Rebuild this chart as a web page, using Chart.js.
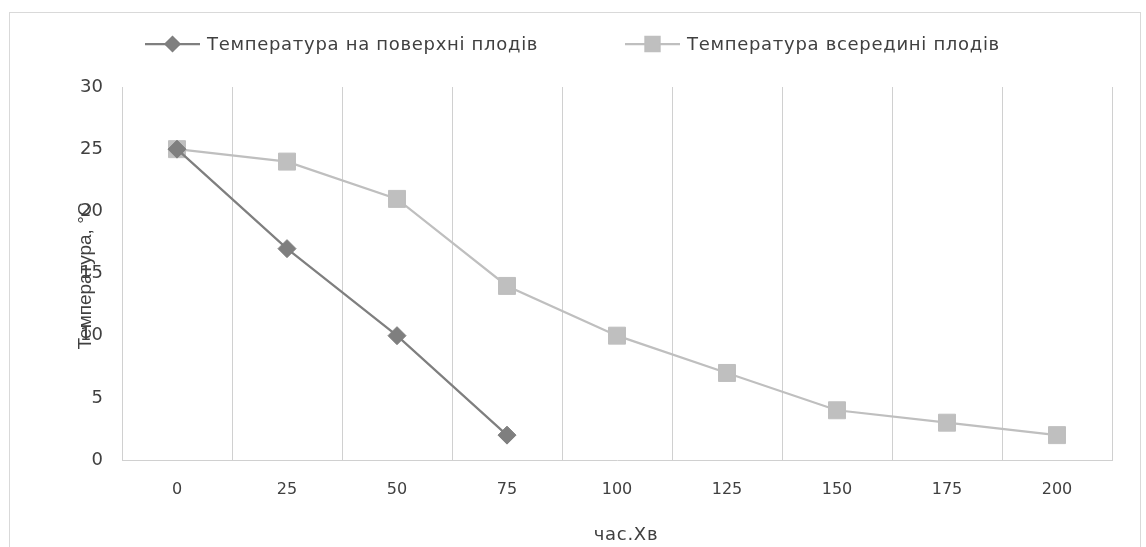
<!DOCTYPE html>
<html>
<head>
<meta charset="utf-8">
<script src="https://cdn.jsdelivr.net/npm/chart.js@4.4.0/dist/chart.umd.min.js"></script>
<style>
body { margin: 0; background: #fff; }
#frame { position: absolute; left: 9px; top: 12px; width: 1130px; height: 560px; border: 1px solid #d9d9d9; }
#wrap { position: absolute; left: 0; top: 0; width: 1146px; height: 547px; }
</style>
</head>
<body>
<div id="frame"></div>
<div id="wrap"><canvas id="myChart" width="1146" height="547"></canvas></div>
<script>
// час, хв
let categories = ['0', '25', '50', '75', '100', '125', '150', '175', '200'];
// температура на поверхні плодів
let surface = [25, 17, 10, 2, null, null, null, null, null];
// температура всередині плодів
let inside = [25, 24, 21, 14, 10, 7, 4, 3, 2];
let seriesNames = ['Температура на поверхні плодів', 'Температура всередині плодів'];
let yTitle = 'Температура, °С';
let xTitle = 'час.Хв';

let font = "'DejaVu Sans', sans-serif";
let textColor = '#404040';

// legend + axis titles drawn on the canvas
let extras = {
    id: 'extras',
    afterDraw(chart) {
        let ctx = chart.ctx;
        let area = chart.chartArea;
        ctx.save();
        ctx.fillStyle = textColor;
        ctx.font = '18px ' + font;
        ctx.letterSpacing = '0.7px';
        ctx.textBaseline = 'middle';

        // legend
        let items = [
            { x: 145, r: 7, ds: chart.data.datasets[0] },
            { x: 625, r: 10, ds: chart.data.datasets[1] }
        ];
        items.forEach(function (it) {
            let y = 44;
            ctx.strokeStyle = it.ds.borderColor;
            ctx.lineWidth = 2.25;
            ctx.beginPath();
            ctx.moveTo(it.x, y);
            ctx.lineTo(it.x + 55, y);
            ctx.stroke();
            ctx.beginPath();
            Chart.helpers.drawPoint(ctx, {
                pointStyle: it.ds.pointStyle,
                radius: it.r,
                rotation: 0,
                borderWidth: 1
            }, it.x + 27.5, y);
            ctx.fillStyle = it.ds.borderColor;
            ctx.fill();
            ctx.fillStyle = textColor;
            ctx.textAlign = 'left';
            ctx.fillText(it.ds.label, it.x + 62, y + 1);
        });

        // x title
        ctx.textAlign = 'center';
        ctx.fillText(xTitle, (area.left + area.right) / 2 + 9, 535);

        // y title (sits over the tick labels like in the original)
        ctx.letterSpacing = '0px';
        ctx.font = "19px 'Liberation Sans', sans-serif";
        ctx.translate(86, 276);
        ctx.rotate(-Math.PI / 2);
        ctx.fillText(yTitle, 0, 0);
        ctx.restore();
    }
};

let ctx = document.getElementById('myChart').getContext('2d');
let myChart = new Chart(ctx, {
    type: 'line',
    data: {
        labels: categories,
        datasets: [{
            label: seriesNames[0],
            data: surface,
            borderColor: '#7f7f7f',
            backgroundColor: '#7f7f7f',
            borderWidth: 2.25,
            pointStyle: 'rectRot',
            pointRadius: 9,
            pointBorderWidth: 1,
            spanGaps: false
        }, {
            label: seriesNames[1],
            data: inside,
            borderColor: '#bfbfbf',
            backgroundColor: '#bfbfbf',
            borderWidth: 2.25,
            pointStyle: 'rect',
            pointRadius: 12,
            pointBorderWidth: 1
        }]
    },
    options: {
        responsive: false,
        animation: false,
        layout: { padding: { left: 0, right: 34, top: 87, bottom: 0 } },
        plugins: {
            legend: { display: false },
            tooltip: { enabled: false }
        },
        scales: {
            x: {
                offset: true,
                grid: { offset: true, color: '#d0d0d0', drawTicks: false },
                border: { color: '#d0d0d0' },
                ticks: { color: textColor, font: { family: font, size: 16 }, padding: 20 },
                afterFit: function (scale) { scale.height = 87; }
            },
            y: {
                min: 0,
                max: 30,
                grid: { display: false, drawTicks: false },
                border: { display: false },
                ticks: { stepSize: 5, color: textColor, font: { family: font, size: 18 }, padding: 19 },
                afterFit: function (scale) { scale.width = 122; }
            }
        }
    },
    plugins: [extras]
});
</script>
</body>
</html>
